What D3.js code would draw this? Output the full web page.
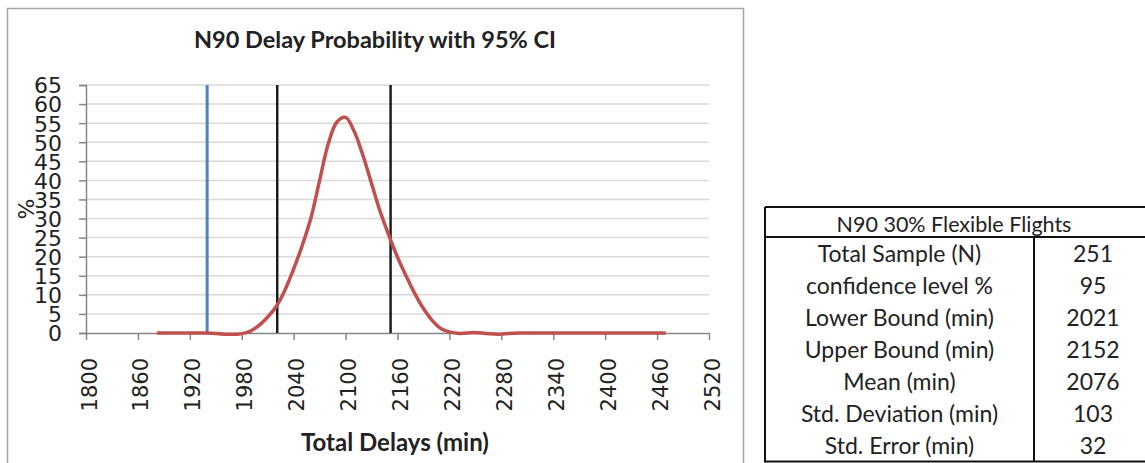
<!DOCTYPE html>
<html>
<head>
<meta charset="utf-8">
<script src="https://cdn.jsdelivr.net/npm/d3@7/dist/d3.min.js"></script>
<style>
  html, body { margin: 0; padding: 0; background: #fff; }
  svg { display: block; }
</style>
</head>
<body>
<svg id="chart" width="1145" height="463"></svg>
<script>
// Probability curve of total delay (minutes vs %)
const delayMinutes = [1882, 1900, 1920, 1940, 1960, 1975, 1985, 1990, 2000, 2010, 2020, 2030, 2040, 2050,
  2060, 2070, 2080, 2090, 2100, 2110, 2120, 2130, 2140, 2150, 2160, 2170, 2180, 2190, 2200,
  2210, 2220, 2232, 2248, 2262, 2276, 2300, 2340, 2400, 2440, 2470];
const probabilityPct = [0, 0, 0, 0, -0.3, -0.3, 0.1, 0.5, 2.0, 4.2, 7.0, 11.3, 16.8, 23.0,
  30.2, 40.0, 49.6, 55.3, 56.5, 52.8, 46.6, 39.2, 31.8, 25.6, 19.9, 14.9, 10.3, 6.4, 3.3,
  1.2, 0.3, -0.1, 0.1, -0.1, -0.3, 0, 0, 0, 0, 0];

// Reference marker and confidence bounds
const referenceDelay = 1940;

// Axis ticks
const xTicks = [1800, 1860, 1920, 1980, 2040, 2100, 2160, 2220, 2280, 2340, 2400, 2460, 2520];
const yTicks = [0, 5, 10, 15, 20, 25, 30, 35, 40, 45, 50, 55, 60, 65];

// Summary table
const tableTitle = "N90 30% Flexible Flights";
const statLabels = ["Total Sample (N)", "confidence level %", "Lower Bound (min)", "Upper Bound (min)",
  "Mean  (min)", "Std. Deviation (min)", "Std. Error (min)"];
const statValues = [251, 95, 2021, 2152, 2076, 103, 32];

const lowerBound = statValues[2];
const upperBound = statValues[3];

const svg = d3.select("#chart");

// chart frame
svg.append("rect")
  .attr("x", 7.5).attr("y", 8.5)
  .attr("width", 736).attr("height", 470)
  .attr("fill", "none").attr("stroke", "#a6a6a6").attr("stroke-width", 1.5);

const x = d3.scaleLinear().domain([1800, 2520]).range([86, 709]);
const y = d3.scaleLinear().domain([0, 65]).range([333, 85]);

// horizontal gridlines
svg.append("g").selectAll("line")
  .data(yTicks.filter(d => d > 0))
  .join("line")
  .attr("x1", x(1800)).attr("x2", x(2520))
  .attr("y1", d => y(d)).attr("y2", d => y(d))
  .attr("stroke", "#d9d9d9").attr("stroke-width", 1.5);

// y axis
const yAxis = svg.append("g")
  .attr("transform", `translate(${x(1800)},0)`)
  .call(d3.axisLeft(y).tickValues(yTicks).tickSize(7).tickPadding(17));
yAxis.select(".domain").attr("stroke", "#868686").attr("stroke-width", 1.5);
yAxis.selectAll(".tick line").attr("stroke", "#868686").attr("stroke-width", 1.5);
yAxis.selectAll(".tick text")
  .attr("fill", "#222").attr("font-family", "DejaVu Sans").attr("font-size", 22)
  .attr("dy", "0.36em");

// x axis
const xAxis = svg.append("g")
  .attr("transform", `translate(0,${y(0)})`)
  .call(d3.axisBottom(x).tickValues(xTicks).tickFormat(d3.format("d")).tickSize(7).tickSizeOuter(0));
xAxis.select(".domain").attr("stroke", "#868686").attr("stroke-width", 1.5);
xAxis.selectAll(".tick line").attr("stroke", "#868686").attr("stroke-width", 1.5);
xAxis.selectAll(".tick text")
  .attr("fill", "#222").attr("font-family", "DejaVu Sans").attr("font-size", 21)
  .attr("text-anchor", "end")
  .attr("transform", "translate(2.5,25) rotate(-90)")
  .attr("x", 0).attr("y", 0).attr("dy", "0.36em");

// vertical markers
svg.append("line")
  .attr("x1", x(referenceDelay)).attr("x2", x(referenceDelay))
  .attr("y1", y(65)).attr("y2", y(0))
  .attr("stroke", "#4f81bd").attr("stroke-width", 3);
svg.append("g").selectAll("line")
  .data([lowerBound, upperBound])
  .join("line")
  .attr("x1", d => x(d)).attr("x2", d => x(d))
  .attr("y1", y(65)).attr("y2", y(0))
  .attr("stroke", "#1c1c1c").attr("stroke-width", 2.5);

// probability curve
const pts = delayMinutes.map((d, i) => [d, probabilityPct[i]]);
svg.append("path")
  .datum(pts)
  .attr("fill", "none")
  .attr("stroke", "#c0504d").attr("stroke-width", 3.5)
  .attr("stroke-linejoin", "round")
  .attr("d", d3.line().x(d => x(d[0])).y(d => y(d[1])).curve(d3.curveCatmullRom.alpha(0.5)));

// titles
svg.append("text")
  .attr("x", 375).attr("y", 48)
  .attr("text-anchor", "middle")
  .attr("font-family", "Lato").attr("font-weight", "bold").attr("font-size", 23.5)
  .attr("fill", "#222")
  .text("N90 Delay Probability with 95% CI");
svg.append("text")
  .attr("x", 395).attr("y", 451)
  .attr("text-anchor", "middle")
  .attr("font-family", "Lato").attr("font-weight", "bold").attr("font-size", 24)
  .attr("fill", "#222")
  .text("Total Delays (min)");
svg.append("text")
  .attr("transform", "translate(34,209) rotate(-90)")
  .attr("text-anchor", "middle")
  .attr("font-family", "DejaVu Sans").attr("font-size", 22)
  .attr("fill", "#222")
  .text("%");

// summary table
const tbl = svg.append("g");
const tLeft = 765, tRight = 1160, tTop = 207, headBottom = 237, tBottom = 461.5, colSplit = 1034;
const rowH = (tBottom - headBottom) / statLabels.length;
const lineStyle = sel => sel.attr("stroke", "#111").attr("stroke-width", 2);
tbl.append("line").attr("x1", tLeft).attr("x2", tRight).attr("y1", tTop).attr("y2", tTop).call(lineStyle);
tbl.append("line").attr("x1", tLeft).attr("x2", tRight).attr("y1", headBottom).attr("y2", headBottom).call(lineStyle);
tbl.append("line").attr("x1", tLeft).attr("x2", tRight).attr("y1", tBottom).attr("y2", tBottom).call(lineStyle);
tbl.append("line").attr("x1", tLeft).attr("x2", tLeft).attr("y1", tTop).attr("y2", tBottom + 1).call(lineStyle);
tbl.append("line").attr("x1", colSplit).attr("x2", colSplit).attr("y1", headBottom).attr("y2", tBottom).call(lineStyle);

tbl.append("text")
  .attr("x", 954).attr("y", 232)
  .attr("text-anchor", "middle")
  .attr("font-family", "Lato").attr("font-size", 21.5).attr("fill", "#222")
  .text(tableTitle);

tbl.selectAll("text.lbl")
  .data(statLabels)
  .join("text")
  .attr("class", "lbl")
  .attr("x", (tLeft + colSplit) / 2)
  .attr("y", (d, i) => headBottom + i * rowH + 25)
  .attr("text-anchor", "middle")
  .attr("font-family", "Lato").attr("font-size", 23).attr("fill", "#222")
  .text(d => d);

tbl.selectAll("text.val")
  .data(statValues)
  .join("text")
  .attr("class", "val")
  .attr("x", 1093)
  .attr("y", (d, i) => headBottom + i * rowH + 25)
  .attr("text-anchor", "middle")
  .attr("font-family", "Lato").attr("font-size", 23).attr("fill", "#222")
  .text(d => d);
</script>
</body>
</html>
